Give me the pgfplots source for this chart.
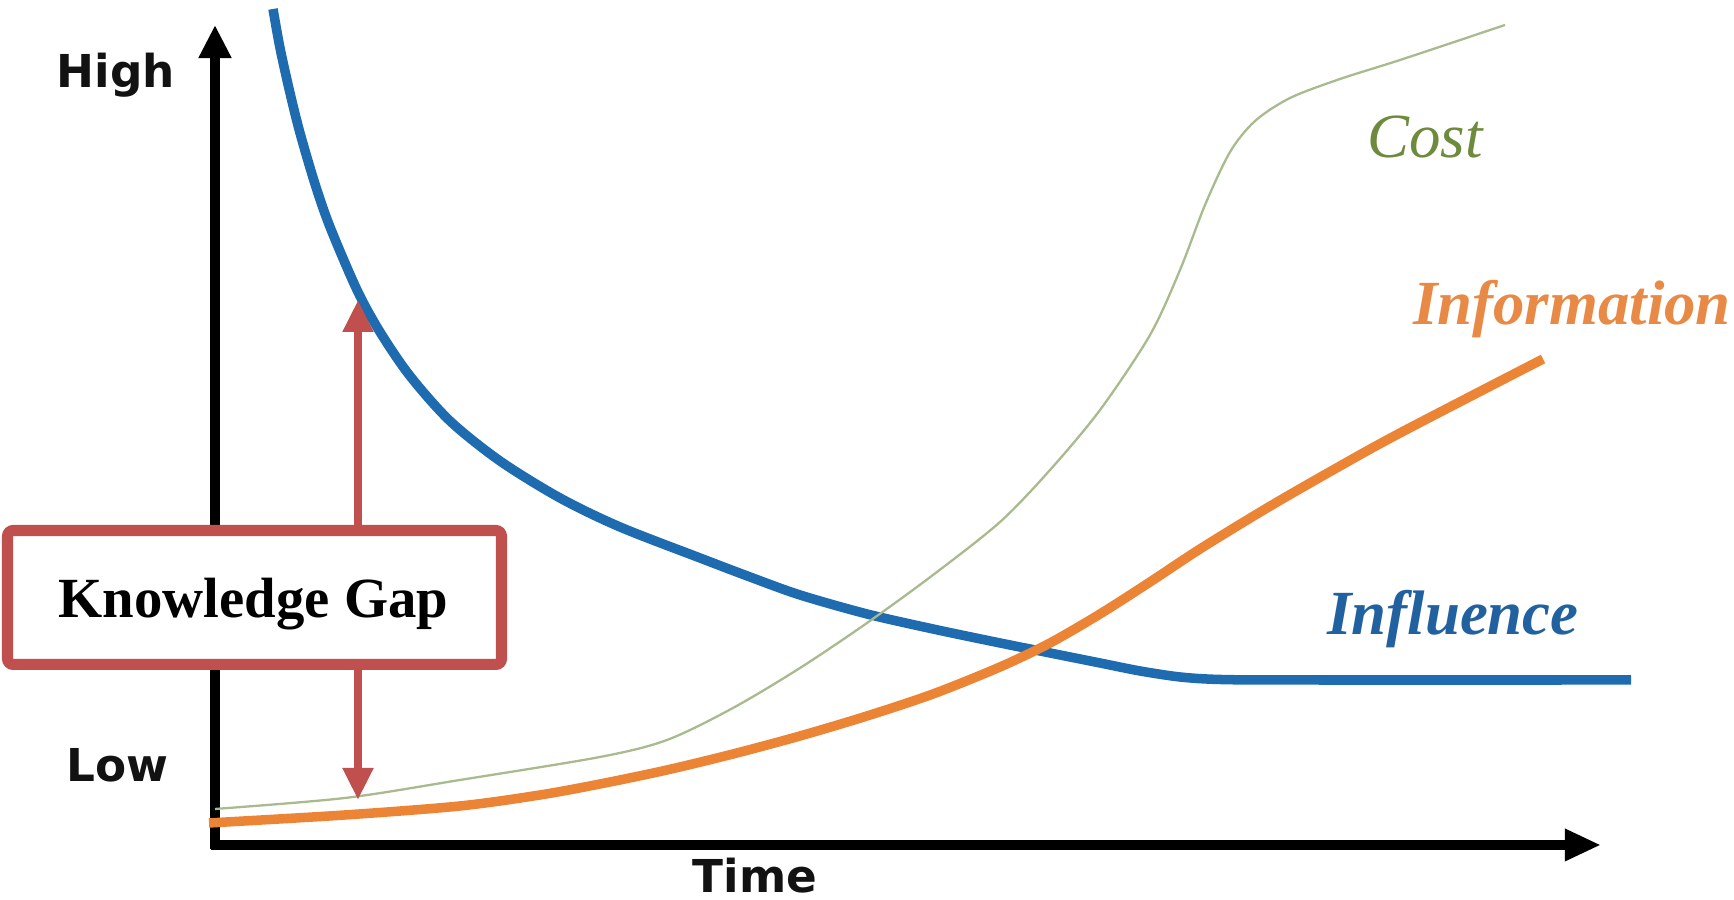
\documentclass[border=0pt]{standalone}
\usepackage{fontspec}
\setmainfont{Liberation Serif}
\newfontfamily\lab{DejaVu Sans}
\usepackage{pgfplots}
\pgfplotsset{compat=1.18}
\usetikzlibrary{arrows.meta}

\definecolor{inflblue}{HTML}{1F6BB0}
\definecolor{infoorange}{HTML}{EC8436}
\definecolor{costgreen}{HTML}{A9BA8E}
\definecolor{costtext}{HTML}{6E8B3D}
\definecolor{infotext}{HTML}{E88A45}
\definecolor{infltext}{HTML}{21619F}
\definecolor{gapred}{HTML}{C0504D}

% curves (x to the right, y downward, in pixels)
\pgfplotstableread{
x y
273 9
280 48
290 93
300 133
315 184
330 227
357 290
380 332
410 376
450 421
500 461
560 498
620 527
700 558
750 577
800 595
867 614
933 629
1000 643
1050 653
1100 663
1140 671
1180 677
1220 679.5
1300 680
1631 680
}\influence

\pgfplotstableread{
x y
215 809
345 798
460 780
600 757
667 740
733 708
800 668
867 623
933 575
1000 522
1050 470
1100 410
1150 335
1180 270
1205 205
1230 152
1255 121
1290 98
1340 79
1400 60
1505 25
}\cost

\pgfplotstableread{
x y
209 823
345 815
460 806
540 795
600 784
667 770
733 754
800 736
867 716
933 694
1000 667
1050 643
1100 614
1150 582
1200 549
1267 508
1333 470
1400 433
1543 359
}\information

\begin{document}
\begin{tikzpicture}
\begin{axis}[
    hide axis, scale only axis, clip=false,
    width=16cm, height=8.3045cm,
    xmin=0, xmax=1734, ymin=0, ymax=900, y dir=reverse,
  ]
  \coordinate (bl) at (axis cs:0,900);
  \coordinate (tr) at (axis cs:1734,0);

  % axes
  \draw[line width=2.4pt, -{Triangle[length=8.7pt,width=8.1pt]}]
    (axis cs:215,849) -- (axis cs:215,25);
  \draw[line width=2.4pt, -{Triangle[length=9.5pt,width=7.9pt]}]
    (axis cs:211,845) -- (axis cs:1601,845);

  \addplot[inflblue, line width=2.5pt, smooth, no markers] table {\influence};
  \addplot[costgreen, line width=0.6pt, smooth, no markers] table {\cost};
  \addplot[infoorange, line width=2.5pt, smooth, no markers] table {\information};

  % knowledge gap
  \draw[gapred, line width=2.2pt, -{Triangle[length=8.4pt,width=7.6pt]}]
    (axis cs:358,530) -- (axis cs:358,300);
  \draw[gapred, line width=2.2pt, -{Triangle[length=8.4pt,width=7.6pt]}]
    (axis cs:358,665) -- (axis cs:358,800);
  \draw[gapred, line width=2.9pt, fill=white, rounded corners=1.5pt]
    (axis cs:7.5,530.5) rectangle (axis cs:501.5,664.5);
  \node[anchor=base, inner sep=0, text=black]
    at (axis cs:253.5,618) {\fontsize{14.9}{17}\selectfont\bfseries Knowledge Gap};

  % axis labels
  \node[anchor=base, inner sep=0, text=black!93]
    at (axis cs:116,88) {\lab\fontsize{11.9}{14}\selectfont\bfseries High};
  \node[anchor=base, inner sep=0, text=black!93]
    at (axis cs:117.5,782) {\lab\fontsize{11.9}{14}\selectfont\bfseries Low};
  \node[anchor=base, inner sep=0, text=black!93]
    at (axis cs:755,893) {\lab\fontsize{11.9}{14}\selectfont\bfseries Time};

  % curve labels
  \node[anchor=base, inner sep=0, text=costtext]
    at (axis cs:1425,158) {\fontsize{16.5}{19}\selectfont\itshape Cost};
  \node[anchor=base, inner sep=0, text=infotext]
    at (axis cs:1572,325) {\fontsize{16.5}{19}\selectfont\bfseries\itshape Information};
  \node[anchor=base, inner sep=0, text=infltext]
    at (axis cs:1453,635) {\fontsize{16.5}{19}\selectfont\bfseries\itshape Influence};
\end{axis}
\pgfresetboundingbox
\useasboundingbox (bl) rectangle (tr);
\end{tikzpicture}
\end{document}
